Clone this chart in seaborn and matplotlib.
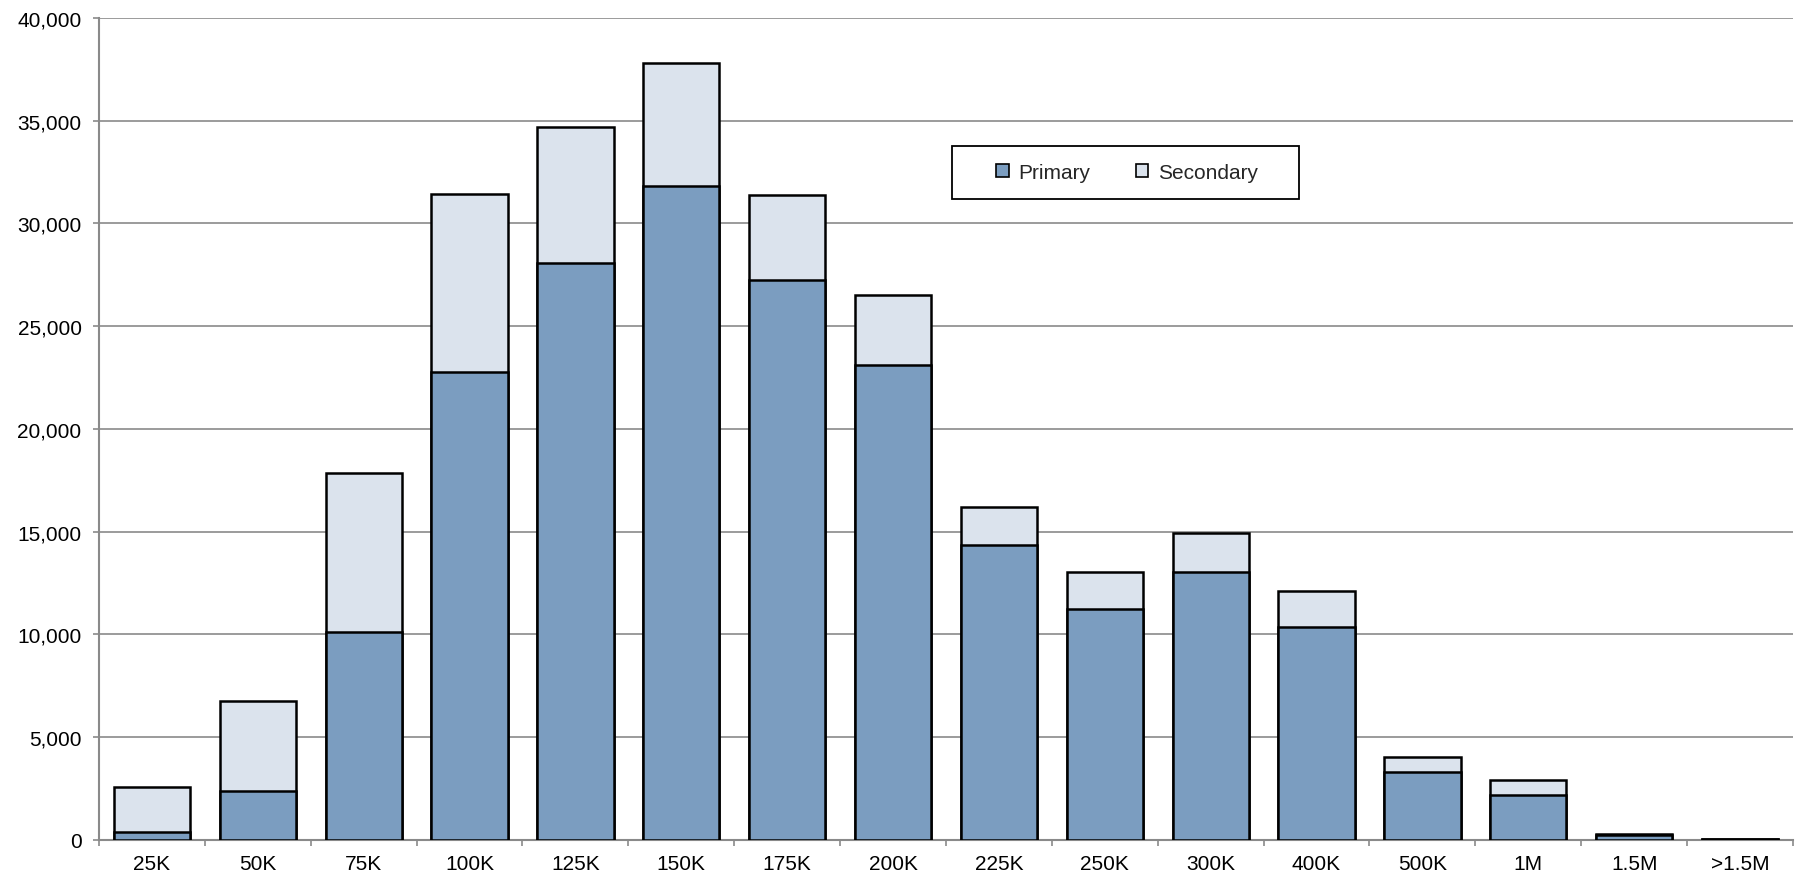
import matplotlib
matplotlib.use("Agg")
import matplotlib.pyplot as plt
import matplotlib.ticker as mticker
from matplotlib.patches import Patch, Rectangle
import seaborn as sns
import pandas as pd

categories = ["25K", "50K", "75K", "100K", "125K", "150K", "175K", "200K",
              "225K", "250K", "300K", "400K", "500K", "1M", "1.5M", ">1.5M"]
primary = [380, 2380, 10130, 22760, 28090, 31830, 27230, 23090,
           14340, 11260, 13040, 10360, 3320, 2180, 220, 50]
secondary = [2210, 4390, 7720, 8690, 6610, 6000, 4170, 3420,
             1850, 1790, 1880, 1750, 740, 720, 60, 20]

PRIMARY_COLOR = "#7b9dc0"
SECONDARY_COLOR = "#dbe3ed"
GRID_COLOR = "#8a8a8a"
FONT_SIZE = 15

df = pd.DataFrame({
    "bucket": categories,
    "Primary": primary,
    "Total": [p + s for p, s in zip(primary, secondary)],
})

sns.set_theme(style="white")
plt.rcParams["font.family"] = ["Liberation Sans", "DejaVu Sans"]

fig = plt.figure(figsize=(18.06, 8.87), dpi=100)
ax = fig.add_axes([0.0548, 0.0519, 0.938, 0.9267])

# Stacked look: full total in the light colour, primary share drawn over it
sns.barplot(data=df, x="bucket", y="Total", color=SECONDARY_COLOR, saturation=1,
            width=0.72, edgecolor="black", linewidth=1.8, ax=ax, zorder=3)
sns.barplot(data=df, x="bucket", y="Primary", color=PRIMARY_COLOR, saturation=1,
            width=0.72, edgecolor="black", linewidth=1.8, ax=ax, zorder=4)

ax.set_xlim(-0.5, len(categories) - 0.5)
ax.set_ylim(0, 40000)
ax.set_xlabel("")
ax.set_ylabel("")

ax.yaxis.set_major_locator(mticker.MultipleLocator(5000))
ax.yaxis.set_major_formatter(mticker.FuncFormatter(lambda v, _: f"{int(v):,}"))
ax.grid(axis="y", color=GRID_COLOR, linewidth=1.2, zorder=0)
ax.set_axisbelow(True)

# Category separators as tick marks between bars
ax.xaxis.set_minor_locator(mticker.FixedLocator([i - 0.5 for i in range(len(categories) + 1)]))
ax.tick_params(axis="x", which="major", length=0, pad=10, labelsize=FONT_SIZE, colors="black")
ax.tick_params(axis="x", which="minor", bottom=True, length=4.5, width=1.2, color=GRID_COLOR)
ax.tick_params(axis="y", which="major", left=True, length=4.5, width=1.2, color=GRID_COLOR,
               labelsize=FONT_SIZE, labelcolor="black", pad=8)

for side in ("top", "right"):
    ax.spines[side].set_visible(False)
for side in ("left", "bottom"):
    ax.spines[side].set_color(GRID_COLOR)
    ax.spines[side].set_linewidth(1.5)

# Legend box drawn as its own rectangle so the entries can sit centred with wide margins
box = Rectangle((0.5035, 0.7798), 0.2048, 0.0645, transform=ax.transAxes,
                facecolor="white", edgecolor="black", linewidth=1.3, zorder=10)
ax.add_patch(box)

handles = [
    Patch(facecolor=PRIMARY_COLOR, edgecolor="black", linewidth=1.2, label="Primary"),
    Patch(facecolor=SECONDARY_COLOR, edgecolor="black", linewidth=1.2, label="Secondary"),
]
leg = ax.legend(handles=handles, ncol=2, loc="center",
                bbox_to_anchor=(0.5035 + 0.2048 / 2 + 0.001, 0.7798 + 0.0645 / 2),
                fontsize=FONT_SIZE, frameon=False,
                handlelength=0.6, handleheight=0.6, handletextpad=0.45,
                columnspacing=2.2, borderpad=0.0)
leg.set_zorder(11)

fig.savefig("out.png", dpi=100)
